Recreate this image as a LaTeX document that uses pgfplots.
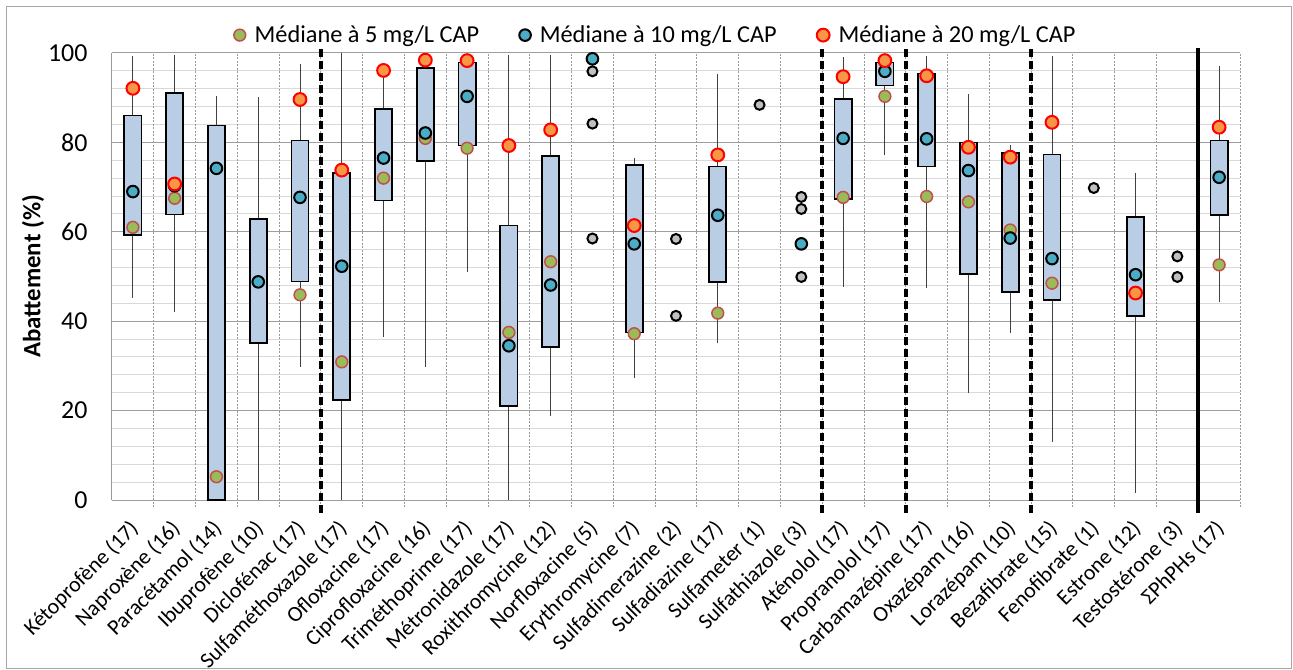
\documentclass[border=0pt]{standalone}
\usepackage{pgfplots}
\pgfplotsset{compat=1.18}
\usepackage{pgfplotstable}
\usepgfplotslibrary{statistics}
\usepackage{fontspec}
\setmainfont{Carlito}
\definecolor{boxfill}{HTML}{B9CDE5}
\definecolor{gfill}{HTML}{9BBB59}
\definecolor{gedge}{HTML}{C0504D}
\definecolor{bfill}{HTML}{4BACC6}
\definecolor{ofill}{HTML}{F79646}
\definecolor{oedge}{HTML}{FF0000}
\definecolor{grfill}{HTML}{C0C0C0}

\pgfplotstableread{
x y
11 98.7
11 95.9
11 84.2
11 58.5
13 58.4
13 41.2
15 88.4
16 67.8
16 65.1
16 49.9
23 69.8
25 54.5
25 49.9
}\graydata

\pgfplotstableread{
x y
0 61.0
1 67.5
2 5.2
4 45.9
5 30.9
6 72.0
7 80.9
8 78.7
9 37.5
10 53.3
12 37.2
14 41.8
17 67.7
18 90.3
19 67.9
20 66.7
21 60.4
22 48.5
26 52.6
}\greendata

\pgfplotstableread{
x y
0 69.0
1 70.3
2 74.2
3 48.8
4 67.7
5 52.3
6 76.5
7 82.1
8 90.3
9 34.5
10 48.1
11 98.7
12 57.3
14 63.7
16 57.3
17 80.9
18 95.9
19 80.8
20 73.7
21 58.6
22 54.0
24 50.4
26 72.2
}\bluedata

\pgfplotstableread{
x y
0 92.1
1 70.7
4 89.6
5 73.8
6 96.1
7 98.4
8 98.3
9 79.3
10 82.8
12 61.4
14 77.2
17 94.7
18 98.3
19 94.9
20 78.9
21 76.7
22 84.5
24 46.3
26 83.4
}\orangedata

\pgfplotsset{
  bx/.style={forget plot,
    boxplot/draw direction=y,
    boxplot/box extend=0.41,
    boxplot/whisker extend=0,
    boxplot/every box/.style={draw=black, line width=1.7bp, fill=boxfill},
    boxplot/every whisker/.style={draw=black!75, line width=0.9bp},
    boxplot/draw/median/.code={}},
}

\begin{document}
\begin{tikzpicture}
\useasboundingbox (-112bp,-170bp) rectangle (1181bp,500bp);
\draw[black!35, line width=1bp] (-105bp,-168bp) rectangle (1179bp,493bp);
\begin{axis}[
  at={(0bp,0bp)}, anchor=south west,
  scale only axis, width=1128bp, height=447bp,
  xmin=-0.5, xmax=26.5, ymin=0, ymax=100,
  clip=false,
  axis line style={draw=none},
  tick style={draw=none},
  xtick={0,...,26},
  xticklabels={K\'etoprof\`ene (17), Naprox\`ene (16), Parac\'etamol (14), Ibuprof\`ene (10), Diclof\'enac (17), Sulfam\'ethoxazole (17), Ofloxacine (17), Ciprofloxacine (16), Trim\'ethoprime (17), M\'etronidazole (17), Roxithromycine (12), Norfloxacine (5), Erythromycine (7), Sulfadimerazine (2), Sulfadiazine (17), Sulfameter (1), Sulfathiazole (3), At\'enolol (17), Propranolol (17), Carbamaz\'epine (17), Oxaz\'epam (16), Loraz\'epam (10), Bezafibrate (15), Fenofibrate (1), Estrone (12), Testost\'erone (3), ΣPhPHs (17)},
  xticklabel style={font=\fontsize{22}{26}\selectfont, xshift=-5bp, rotate=45, anchor=north east, inner sep=13bp},
  ytick={0,20,...,100},
  minor y tick num=4,
  ymajorgrids, yminorgrids,
  major grid style={draw=black!38, line width=1bp},
  minor grid style={draw=black!15, line width=1bp},
  yticklabel style={font=\fontsize{26}{30}\selectfont, xshift=-21bp},
  /pgf/number format/assume math mode=true,
  ylabel={Abattement (\%)},
  ylabel style={font=\fontsize{25}{30}\selectfont\bfseries, at={(axis description cs:-0.070,0.5)}, anchor=center},
  legend columns=3,
  legend style={at={(0.482,1.040)}, anchor=center, draw=none, fill=none,
    font=\fontsize{24.4}{29}\selectfont,
    /tikz/every odd column/.append style={column sep=7bp},
    /tikz/every even column/.append style={column sep=38bp}},
]
% vertical category separators (gridlines)
\draw[black!40, line width=1bp] (axis cs:-0.5,0) -- (axis cs:-0.5,100);
\pgfplotsinvokeforeach{0.5,1.5,...,26.5}{
  \draw[black!40, dash pattern=on 2bp off 1.5bp, line width=0.8bp] (axis cs:#1,-1.6) -- (axis cs:#1,100);
}
% boxes
\addplot[bx, boxplot prepared={draw position=0, lower whisker=45.3, lower quartile=59.3, median=69, upper quartile=86.0, upper whisker=99.4}] coordinates {};
\addplot[bx, boxplot prepared={draw position=1, lower whisker=42.0, lower quartile=63.9, median=70, upper quartile=91.0, upper whisker=99.6}] coordinates {};
\addplot[bx, boxplot prepared={draw position=2, lower whisker=0, lower quartile=0, median=74, upper quartile=83.8, upper whisker=90.4}] coordinates {};
\addplot[bx, boxplot prepared={draw position=3, lower whisker=0, lower quartile=35.2, median=48.8, upper quartile=62.9, upper whisker=90.2}] coordinates {};
\addplot[bx, boxplot prepared={draw position=4, lower whisker=29.8, lower quartile=48.9, median=67.7, upper quartile=80.4, upper whisker=97.5}] coordinates {};
\addplot[bx, boxplot prepared={draw position=5, lower whisker=0, lower quartile=22.4, median=52.3, upper quartile=73.2, upper whisker=100}] coordinates {};
\addplot[bx, boxplot prepared={draw position=6, lower whisker=36.4, lower quartile=67.0, median=76.5, upper quartile=87.5, upper whisker=96.0}] coordinates {};
\addplot[bx, boxplot prepared={draw position=7, lower whisker=29.8, lower quartile=75.8, median=82, upper quartile=96.7, upper whisker=98.4}] coordinates {};
\addplot[bx, boxplot prepared={draw position=8, lower whisker=50.9, lower quartile=79.3, median=90.3, upper quartile=97.9, upper whisker=98.5}] coordinates {};
\addplot[bx, boxplot prepared={draw position=9, lower whisker=0, lower quartile=21.0, median=34.5, upper quartile=61.4, upper whisker=99.6}] coordinates {};
\addplot[bx, boxplot prepared={draw position=10, lower whisker=18.7, lower quartile=34.3, median=48.1, upper quartile=77.0, upper whisker=99.6}] coordinates {};
\addplot[bx, boxplot prepared={draw position=12, lower whisker=27.4, lower quartile=37.5, median=57.3, upper quartile=74.9, upper whisker=76.5}] coordinates {};
\addplot[bx, boxplot prepared={draw position=14, lower whisker=35.2, lower quartile=48.8, median=63.7, upper quartile=74.6, upper whisker=95.2}] coordinates {};
\addplot[bx, boxplot prepared={draw position=17, lower whisker=47.7, lower quartile=67.3, median=80.9, upper quartile=89.7, upper whisker=99.0}] coordinates {};
\addplot[bx, boxplot prepared={draw position=18, lower whisker=77.1, lower quartile=92.7, median=95.9, upper quartile=97.9, upper whisker=99.0}] coordinates {};
\addplot[bx, boxplot prepared={draw position=19, lower whisker=47.4, lower quartile=74.6, median=80.8, upper quartile=95.4, upper whisker=99.3}] coordinates {};
\addplot[bx, boxplot prepared={draw position=20, lower whisker=23.9, lower quartile=50.6, median=73.7, upper quartile=80.0, upper whisker=90.8}] coordinates {};
\addplot[bx, boxplot prepared={draw position=21, lower whisker=37.4, lower quartile=46.5, median=58.6, upper quartile=77.6, upper whisker=79.5}] coordinates {};
\addplot[bx, boxplot prepared={draw position=22, lower whisker=13.0, lower quartile=44.7, median=54.0, upper quartile=77.3, upper whisker=99.3}] coordinates {};
\addplot[bx, boxplot prepared={draw position=24, lower whisker=1.6, lower quartile=41.2, median=50.4, upper quartile=63.3, upper whisker=73.1}] coordinates {};
\addplot[bx, boxplot prepared={draw position=26, lower whisker=44.3, lower quartile=63.8, median=72.2, upper quartile=80.4, upper whisker=97.2}] coordinates {};
% group separators
\pgfplotsinvokeforeach{4.5,16.5,18.5,21.5}{
  \draw[black, line width=3.6bp, dash pattern=on 8bp off 4bp] (axis cs:#1,-2.9) -- (axis cs:#1,101.1);
}
\draw[black, line width=3.8bp] (axis cs:25.5,-2.9) -- (axis cs:25.5,101.1);
% points
\addplot[forget plot, only marks, mark=*, mark size=5bp, draw=black, fill=grfill, line width=2bp] table {\graydata};
\addplot[only marks, mark=*, mark size=5.9bp, draw=gedge, fill=gfill, line width=1.5bp] table {\greendata};
\addlegendentry{Médiane à 5 mg/L CAP}
\addplot[only marks, mark=*, mark size=5.8bp, draw=black, fill=bfill, line width=2bp] table {\bluedata};
\addlegendentry{Médiane à 10 mg/L CAP}
\addplot[only marks, mark=*, mark size=6.4bp, draw=oedge, fill=ofill, line width=2bp] table {\orangedata};
\addlegendentry{Médiane à 20 mg/L CAP}
\end{axis}
\end{tikzpicture}
\end{document}
